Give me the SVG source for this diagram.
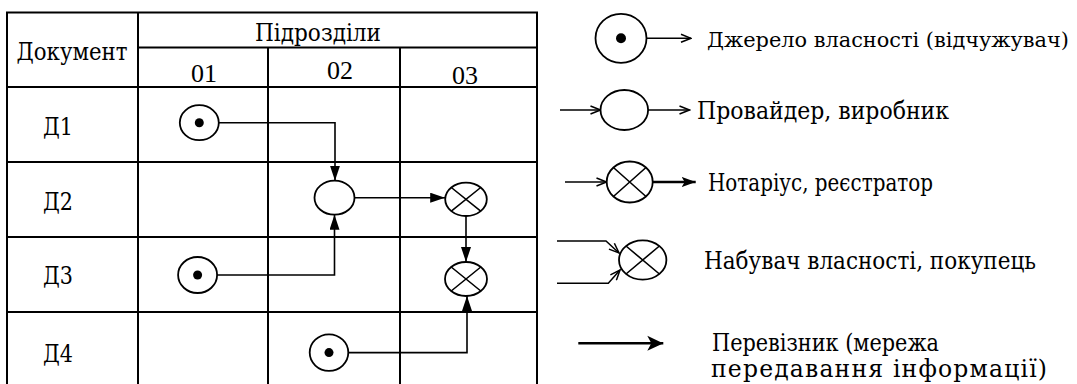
<svg xmlns="http://www.w3.org/2000/svg" width="1077" height="384" viewBox="0 0 1077 384">
  <style>
    .grid { stroke: #000; stroke-width: 2; fill: none; }
    .t { font-family: "Liberation Serif", "Times New Roman", serif; font-size: 26px; fill: #000; }
    .cy { font-family: "DejaVu Serif", "Liberation Serif", serif; font-size: 23.5px; fill: #000; }
    .shape { fill: #fff; stroke: #000; stroke-width: 1.8; }
    .cross { stroke: #000; stroke-width: 1.6; fill: none; }
    .dot { fill: #000; }
    .link { fill: none; stroke: #000; stroke-width: 1.6; }
    .thin { fill: none; stroke: #000; stroke-width: 1.5; }
    .bold { fill: none; stroke: #000; stroke-width: 2.4; }
  </style>
  <defs>
    <marker id="tri" markerUnits="userSpaceOnUse" markerWidth="15" markerHeight="10" refX="15" refY="5" orient="auto">
      <path d="M0,0 L15,5 L0,10 z" fill="#000"/>
    </marker>
    <marker id="barb" markerUnits="userSpaceOnUse" markerWidth="12" markerHeight="10" refX="11" refY="5" orient="auto">
      <path d="M1,1 L11,5 L1,9" fill="none" stroke="#000" stroke-width="1.5"/>
    </marker>
    <marker id="solid" markerUnits="userSpaceOnUse" markerWidth="14" markerHeight="11" refX="14" refY="5.5" orient="auto">
      <path d="M0,0.5 L14,5.5 L0,10.5 L3,5.5 z" fill="#000"/>
    </marker>
    <marker id="big" markerUnits="userSpaceOnUse" markerWidth="16" markerHeight="16" refX="16" refY="8" orient="auto">
      <path d="M0,0.5 L16,8 L0,15.5 L4,8 z" fill="#000"/>
    </marker>
  </defs>

  <!-- document / department grid -->
  <g id="table">
    <path class="grid" d="M7,384 V12.5 H537 V384 M138,12.5 V384 M138,47.5 H537 M268,47.5 V384 M400,47.5 V384 M7,87 H537 M7,162 H537 M7,237 H537 M7,312 H537"/>
    <text class="cy" x="16.5" y="60" textLength="111" lengthAdjust="spacingAndGlyphs">Документ</text>
    <text class="cy" x="255" y="41" textLength="126" lengthAdjust="spacingAndGlyphs">Підрозділи</text>
    <text class="t" x="204" y="82" text-anchor="middle">01</text>
    <text class="t" x="340" y="78.5" text-anchor="middle">02</text>
    <text class="t" x="465" y="84" text-anchor="middle">03</text>
    <text class="cy" x="43" y="134.5" textLength="30" lengthAdjust="spacingAndGlyphs">Д1</text>
    <text class="cy" x="43" y="209.5" textLength="30" lengthAdjust="spacingAndGlyphs">Д2</text>
    <text class="cy" x="43" y="284" textLength="30" lengthAdjust="spacingAndGlyphs">Д3</text>
    <text class="cy" x="43" y="362" textLength="30" lengthAdjust="spacingAndGlyphs">Д4</text>
  </g>

  <!-- flow links -->
  <g id="connectors">
    <path class="link" d="M219,122.7 H335 V180.7" marker-end="url(#tri)"/>
    <path class="link" d="M217,275 H334.5 V214.7" marker-end="url(#tri)"/>
    <path class="link" d="M354.5,197.7 H445.2" marker-end="url(#tri)"/>
    <path class="link" d="M466,216 V262" marker-end="url(#tri)"/>
    <path class="link" d="M348.3,352.6 H467 V296" marker-end="url(#tri)"/>
  </g>

  <g id="src-d1">
    <ellipse class="shape" cx="199.3" cy="122.7" rx="19.5" ry="17.5"/>
    <circle class="dot" cx="199.3" cy="122.7" r="4.5"/>
  </g>
  <g id="src-d3">
    <ellipse class="shape" cx="197.6" cy="275" rx="19.5" ry="18"/>
    <circle class="dot" cx="197.6" cy="275" r="4.5"/>
  </g>
  <g id="src-d4">
    <ellipse class="shape" cx="329" cy="352.6" rx="19.3" ry="18.3"/>
    <circle class="dot" cx="329" cy="352.6" r="4.5"/>
  </g>
  <g id="provider-d2">
    <ellipse class="shape" cx="334.5" cy="197.7" rx="20" ry="17"/>
  </g>
  <g id="notary-d2">
    <ellipse class="shape" cx="466" cy="199.3" rx="20.8" ry="16.7"/>
    <path class="cross" d="M451.3,187.5 L480.7,211.1 M451.3,211.1 L480.7,187.5"/>
  </g>
  <g id="buyer-d3">
    <ellipse class="shape" cx="466" cy="279" rx="21" ry="17"/>
    <path class="cross" d="M451.2,267 L480.8,291 M451.2,291 L480.8,267"/>
  </g>

  <!-- legend -->
  <g id="legend-source">
    <ellipse class="shape" cx="621" cy="38.3" rx="25.5" ry="24.5"/>
    <circle class="dot" cx="621" cy="38.3" r="5"/>
    <path class="thin" d="M646.5,38.3 H691" marker-end="url(#barb)"/>
    <text class="cy" x="707" y="47" style="font-size:20px" textLength="362" lengthAdjust="spacingAndGlyphs">Джерело власності (відчужувач)</text>
  </g>
  <g id="legend-provider">
    <path class="thin" d="M560,110 H600.5" marker-end="url(#barb)"/>
    <ellipse class="shape" cx="624.3" cy="110" rx="23.8" ry="20"/>
    <path class="thin" d="M648,110 H689.5" marker-end="url(#barb)"/>
    <text class="cy" x="697" y="119" textLength="252" lengthAdjust="spacingAndGlyphs">Провайдер, виробник</text>
  </g>
  <g id="legend-notary">
    <path class="thin" d="M565,182 H606.5" marker-end="url(#barb)"/>
    <ellipse class="shape" cx="629.7" cy="182" rx="23" ry="20.5"/>
    <path class="cross" d="M613.4,167.5 L646,196.5 M613.4,196.5 L646,167.5"/>
    <path class="bold" d="M652.7,182 H695.7" marker-end="url(#solid)"/>
    <text class="cy" x="708" y="191" textLength="225" lengthAdjust="spacingAndGlyphs">Нотаріус, реєстратор</text>
  </g>
  <g id="legend-buyer">
    <path class="thin" d="M557,241 H606 L619,253" marker-end="url(#barb)"/>
    <path class="thin" d="M557,283.3 H608.3 L620,270" marker-end="url(#barb)"/>
    <ellipse class="shape" cx="642.7" cy="260" rx="23.7" ry="19.7"/>
    <path class="cross" d="M626,246 L659.4,274 M626,274 L659.4,246"/>
    <text class="cy" x="704" y="269" textLength="332" lengthAdjust="spacingAndGlyphs">Набувач власності, покупець</text>
  </g>
  <g id="legend-carrier">
    <path class="bold" d="M578.3,343.3 H663.3" marker-end="url(#big)"/>
    <text class="cy" x="712" y="351" textLength="227" lengthAdjust="spacingAndGlyphs">Перевізник (мережа</text>
    <text class="cy" x="711" y="377" textLength="336" lengthAdjust="spacing">передавання інформації)</text>
  </g>
</svg>
